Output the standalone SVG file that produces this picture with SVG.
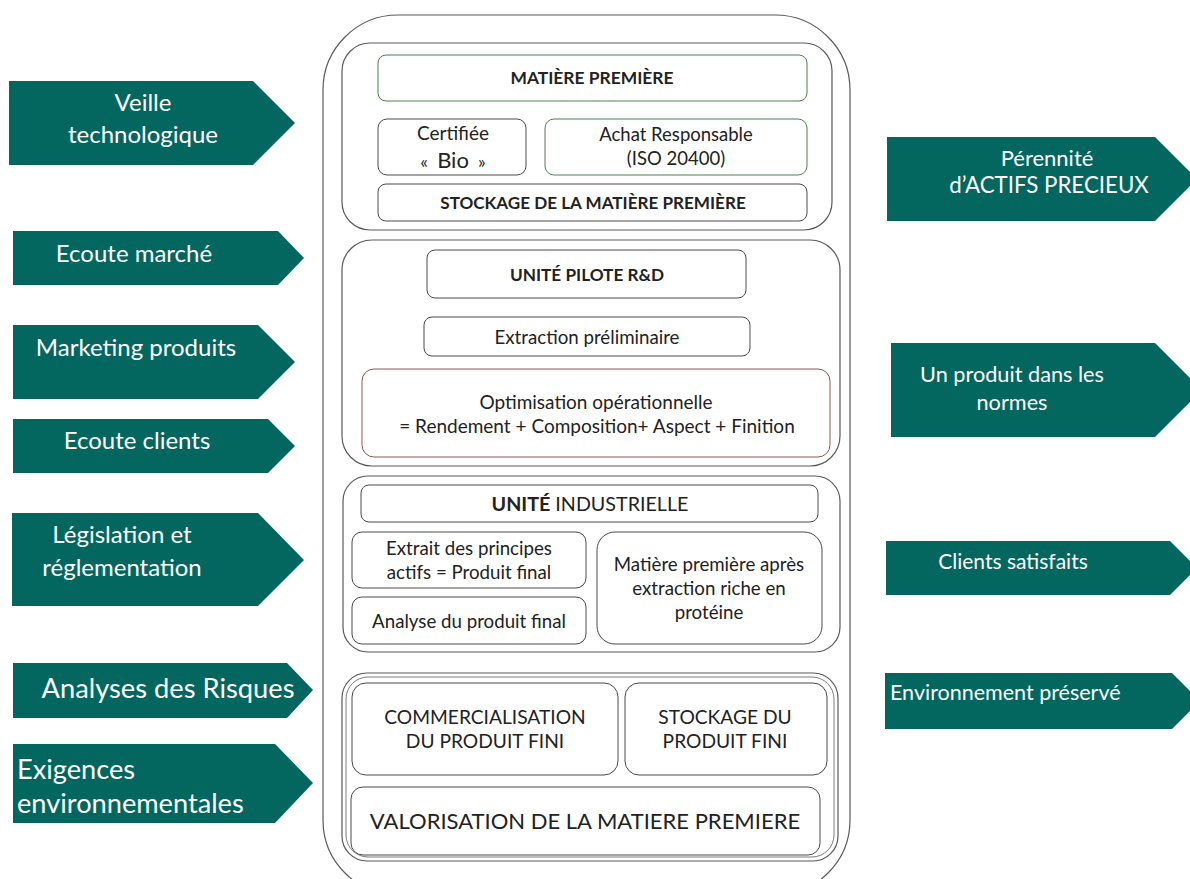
<svg xmlns="http://www.w3.org/2000/svg" width="1190" height="879" viewBox="0 0 1190 879">
<style>
.ar{fill:#03665f;}
.at{fill:#ffffff;font-family:Lato,"Liberation Sans",sans-serif;font-size:24px;text-anchor:middle;}
.rt{font-size:22px;}
.sec{fill:none;stroke:#5a5a5a;stroke-width:1.2;}
.bx{fill:#ffffff;stroke:#4a4a4a;stroke-width:1;}
.gbx{fill:#ffffff;stroke:#4f7f52;stroke-width:1;}
.rbx{fill:#ffffff;stroke:#8a5656;stroke-width:1;}
.t{fill:#222;font-family:Lato,"Liberation Sans",sans-serif;font-size:18.7px;text-anchor:middle;}
.b{font-weight:bold;font-size:17.2px;}
.c{font-size:19.2px;}
</style>
<rect width="1190" height="879" fill="#ffffff"/>
<g id="frame">
<rect x="323" y="15" width="527" height="880" rx="75" ry="75" class="sec"/>
</g>
<g id="left-arrows">
<g id="veille"><polygon class="ar" points="9,81 253,81 295,123 253,165 9,165"/><text class="at" x="143" y="111">Veille</text><text class="at" x="143" y="143">technologique</text></g>
<g id="ecoute-marche"><polygon class="ar" points="13,231 278,231 304,258 278,285 13,285"/><text class="at" x="134" y="262">Ecoute marché</text></g>
<g id="marketing"><polygon class="ar" points="13,325 258,325 295,362 258,399 13,399"/><text class="at" x="136" y="356">Marketing produits</text></g>
<g id="ecoute-clients"><polygon class="ar" points="13,419 268,419 295,446 268,473 13,473"/><text class="at" x="137" y="449">Ecoute clients</text></g>
<g id="legislation"><polygon class="ar" points="12,513 258,513 304,560 258,606 12,606"/><text class="at" x="122" y="543">Législation et</text><text class="at" x="122" y="576">réglementation</text></g>
<g id="risques"><polygon class="ar" points="13,663 287,663 313,690 287,718 13,718"/><text class="at" x="168" y="698" style="font-size:27.3px">Analyses des Risques</text></g>
<g id="exigences"><polygon class="ar" points="13,744 275,744 313,783 275,823 13,823"/><text class="at" x="17" y="779" style="font-size:27.2px;text-anchor:start">Exigences</text><text class="at" x="17" y="813" style="font-size:27.2px;text-anchor:start">environnementales</text></g>
</g>
<g id="right-arrows">
<g id="perennite"><polygon class="ar" points="887,137 1155,137 1197,179 1155,221 887,221"/><text class="at rt" x="1047" y="166">Pérennité</text><text class="at rt" x="1049" y="193" style="font-size:22.3px">d’ACTIFS PRECIEUX</text></g>
<g id="normes"><polygon class="ar" points="891,343 1155,343 1202,390 1155,437 891,437"/><text class="at rt" x="1012" y="382" style="font-size:21.7px">Un produit dans les</text><text class="at rt" x="1012" y="410" style="font-size:21.7px">normes</text></g>
<g id="clients-satisfaits"><polygon class="ar" points="886,541 1170,541 1197,568 1170,595 886,595"/><text class="at rt" x="1013" y="569" style="font-size:21px">Clients satisfaits</text></g>
<g id="environnement"><polygon class="ar" points="885,673 1172,673 1200,701 1172,729 885,729"/><text class="at rt" x="890" y="700" style="font-size:21.5px;text-anchor:start">Environnement préservé</text></g>
</g>
<g id="section-matiere">
<rect x="342" y="43" width="490" height="187" rx="28" class="sec"/>
<g id="matiere-premiere"><rect x="378" y="55" width="429" height="46" rx="8" class="gbx"/><text class="t b" x="592" y="84" style="font-size:17.4px">MATIÈRE PREMIÈRE</text></g>
<g id="certifiee"><rect x="378" y="119" width="148" height="56" rx="9" class="bx"/><text class="t" x="453" y="140" style="font-size:19px">Certifiée</text><text class="t" x="453" y="168"><tspan style="font-size:18px">«&#160;&#160;</tspan><tspan style="font-size:22px">Bio</tspan><tspan style="font-size:18px">&#160;&#160;»</tspan></text></g>
<g id="achat"><rect x="545" y="119" width="262" height="56" rx="9" class="gbx"/><text class="t" x="676" y="141" style="font-size:18.5px">Achat Responsable</text><text class="t" x="676" y="165" style="font-size:18.5px">(ISO 20400)</text></g>
<g id="stockage-mp"><rect x="378" y="184" width="429" height="37" rx="8" class="bx"/><text class="t b" x="593" y="209" style="font-size:17.1px">STOCKAGE DE LA MATIÈRE PREMIÈRE</text></g>
</g>
<g id="section-pilote">
<rect x="342" y="240" width="498" height="226" rx="30" class="sec"/>
<g id="unite-pilote"><rect x="427" y="250" width="319" height="48" rx="8" class="bx"/><text class="t b" x="587" y="281">UNITÉ PILOTE R&amp;D</text></g>
<g id="extraction"><rect x="424" y="317" width="326" height="39" rx="8" class="bx"/><text class="t" x="587" y="344">Extraction préliminaire</text></g>
<g id="optimisation"><rect x="362" y="369" width="468" height="88" rx="12" class="rbx"/><text class="t" x="596" y="409" style="font-size:19px">Optimisation opérationnelle</text><text class="t" x="597" y="433" style="font-size:19px">= Rendement + Composition+ Aspect + Finition</text></g>
</g>
<g id="section-industrielle">
<rect x="343" y="476" width="497" height="176" rx="25" class="sec"/>
<g id="unite-industrielle"><rect x="361" y="485" width="457" height="37" rx="8" class="bx"/><text class="t" x="590" y="511" style="font-size:19.7px"><tspan font-weight="bold">UNITÉ</tspan> INDUSTRIELLE</text></g>
<g id="extrait"><rect x="352" y="532" width="234" height="56" rx="10" class="bx"/><text class="t" x="469" y="555">Extrait des principes</text><text class="t" x="469" y="579">actifs = Produit final</text></g>
<g id="analyse"><rect x="352" y="597" width="234" height="47" rx="10" class="bx"/><text class="t" x="469" y="628">Analyse du produit final</text></g>
<g id="matiere-apres"><rect x="597" y="532" width="225" height="112" rx="18" class="bx"/><text class="t" x="709" y="571">Matière première après</text><text class="t" x="709" y="595">extraction riche en</text><text class="t" x="709" y="619">protéine</text></g>
</g>
<g id="section-valorisation">
<rect x="342" y="673" width="496" height="188" rx="25" class="sec"/>
<rect x="346" y="677" width="488" height="180" rx="22" class="sec" style="stroke-width:0.8"/>
<g id="commercialisation"><rect x="352" y="683" width="266" height="92" rx="14" class="bx"/><text class="t c" x="485" y="724">COMMERCIALISATION</text><text class="t c" x="485" y="748">DU PRODUIT FINI</text></g>
<g id="stockage-pf"><rect x="625" y="683" width="202" height="92" rx="14" class="bx"/><text class="t c" x="725" y="724">STOCKAGE DU</text><text class="t c" x="725" y="748">PRODUIT FINI</text></g>
<g id="valorisation"><rect x="351" y="787" width="469" height="68" rx="12" class="bx"/><text class="t" x="585" y="829" style="font-size:22px">VALORISATION DE LA MATIERE PREMIERE</text></g>
</g>
<g id="connectors"></g>
</svg>
